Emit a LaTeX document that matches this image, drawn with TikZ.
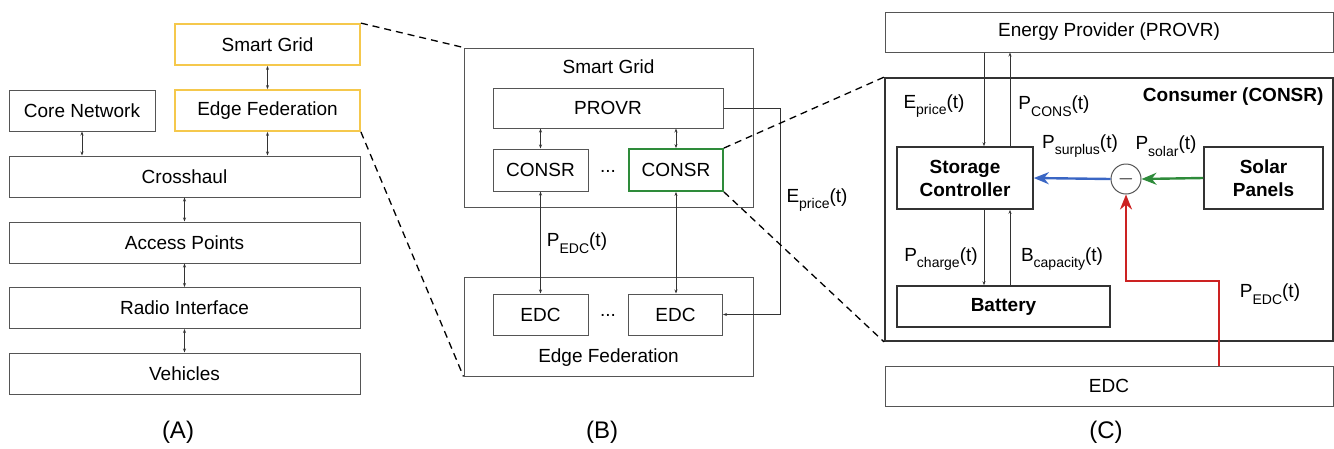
\documentclass[tikz,border=0pt]{standalone}
\usepackage{fontspec}
\setmainfont{Liberation Sans}
\usetikzlibrary{arrows.meta}

\definecolor{gridyellow}{HTML}{F5C84C}
\definecolor{consgreen}{HTML}{2E8B3A}
\definecolor{surplusblue}{HTML}{3A66C4}
\definecolor{edcred}{HTML}{CC2222}
\definecolor{linegray}{HTML}{555555}

\newcommand{\lsub}[1]{\raisebox{-6.5pt}{\fontsize{14}{14}\selectfont #1}}

\tikzset{> = {Stealth[length=4pt, width=3pt]}}
\tikzset{
  box/.style = {draw=linegray, line width=1pt, inner sep=0pt},
  ybox/.style = {box, draw=gridyellow, line width=1.8pt},
  bbox/.style = {draw=black!80, line width=1.6pt, inner sep=0pt, align=center, font=\fontsize{19}{23}\selectfont\bfseries},
  dbl/.style = {<->, line width=0.8pt, black!80},
  sarr/.style = {->, line width=0.8pt, black!80},
  zoomline/.style = {line width=1.3pt, dash pattern=on 7pt off 5pt},
  fat/.style = {line width=2.4pt, -{Stealth[length=15pt, width=12pt]}},
  panel/.style = {font=\fontsize{24}{28}\selectfont}
}

\begin{document}
\begin{tikzpicture}[x=1pt, y=-1pt, font=\fontsize{19}{23}\selectfont]
\useasboundingbox (0,0) rectangle (1334,448);

% (A) layers
\node[ybox, minimum width=185pt, minimum height=41pt] (sgA) at (267.5,44.5) {Smart Grid};
\node[ybox, minimum width=185pt, minimum height=41pt] (efA) at (267.5,110.5) {Edge Federation};
\node[box, minimum width=146pt, minimum height=41pt] (coreA) at (82,110.5) {Core Network};
\node[box, minimum width=351pt, minimum height=41pt] (crossA) at (184.5,176.5) {Crosshaul};
\node[box, minimum width=351pt, minimum height=41pt] (accessA) at (184.5,242.5) {Access Points};
\node[box, minimum width=351pt, minimum height=41pt] (radioA) at (184.5,308) {Radio Interface};
\node[box, minimum width=351pt, minimum height=41pt] (vehA) at (184.5,373.5) {Vehicles};
\node[panel] (capA) at (178,432) {(A)};

\draw[dbl] (sgA) -- (efA);
\draw[dbl] (coreA.south) -- (coreA.south |- crossA.north);
\draw[dbl] (efA.south) -- (efA.south |- crossA.north);
\draw[dbl] (crossA) -- (accessA);
\draw[dbl] (accessA) -- (radioA);
\draw[dbl] (radioA) -- (vehA);

% (B) smart grid and edge federation
\node[box, minimum width=289pt, minimum height=159pt] (sgB) at (608.5,127.5) {};
\node (sgtitle) at (608.5,67) {Smart Grid};
\node[box, minimum width=230pt, minimum height=40pt] (provr) at (608,108) {PROVR};
\node[box, minimum width=95pt, minimum height=42pt] (consrL) at (540.5,170) {CONSR};
\node[box, draw=consgreen, line width=1.8pt, minimum width=94pt, minimum height=42pt] (consrR) at (676,170) {CONSR};
\node (dotsB1) at (608,171) {...};
\node[box, minimum width=289pt, minimum height=99pt] (efB) at (608.5,326.5) {};
\node[box, minimum width=95pt, minimum height=41pt] (edcL) at (540.5,314.5) {EDC};
\node[box, minimum width=94pt, minimum height=41pt] (edcR) at (675.5,314.5) {EDC};
\node (dotsB2) at (608,315.5) {...};
\node (eftitle) at (608.5,358) {Edge Federation};
\node (pedcB) at (577,243) {P\lsub{EDC}(t)};
\node (epriceB) at (817,200) {E\lsub{price}(t)};
\node[panel] (capB) at (602,432) {(B)};

\draw[dbl] (consrL.north) -- (consrL.north |- provr.south);
\draw[dbl] (consrR.north) -- (consrR.north |- provr.south);
\draw[dbl] (consrL.south) -- (edcL.north);
\draw[dbl] (consrR.south) -- (consrR.south |- edcR.north);
\draw[sarr] (provr.east) -- ++(57,0) |- (edcR.east);

% (C) consumer
\node[box, minimum width=448pt, minimum height=40pt] (ep) at (1109,32) {Energy Provider (PROVR)};
\node[draw=black!80, line width=1.8pt, minimum width=448pt, minimum height=263pt] (cons) at (1109,209.5) {};
\node[anchor=east, font=\fontsize{19}{23}\selectfont\bfseries] (constitle) at (1327,97) {Consumer (CONSR)};
\node[bbox, minimum width=136pt, minimum height=62pt] (stor) at (965,178) {Storage\\Controller};
\node[bbox, minimum width=119pt, minimum height=62pt] (solar) at (1263.5,178) {Solar\\Panels};
\node[bbox, minimum width=213pt, minimum height=41pt] (batt) at (1003.5,306.5) {Battery};
\node[circle, draw=linegray, line width=1pt, minimum size=30pt, inner sep=0pt, font=\fontsize{22}{22}\selectfont] (minus) at (1126,179) {$-$};
\node[box, minimum width=448pt, minimum height=40pt] (edcC) at (1109,386) {EDC};
\node[panel] (capC) at (1106,432) {(C)};

\node (epriceC) at (934,106) {E\lsub{price}(t)};
\node (pconsC) at (1054,106) {P\lsub{CONS}(t)};
\node (psurpC) at (1080,146) {P\lsub{surplus}(t)};
\node (psolarC) at (1166,146) {P\lsub{solar}(t)};
\node (pchargeC) at (941,259) {P\lsub{charge}(t)};
\node (bcapC) at (1062,259) {B\lsub{capacity}(t)};
\node (pedcC) at (1270,294) {P\lsub{EDC}(t)};

\coordinate (downC) at ([xshift=19pt]stor.north);
\coordinate (upC) at ([xshift=45pt]stor.north);
\coordinate (redC) at (1219,366);

\draw[sarr] (downC |- ep.south) -- (downC);
\draw[sarr] (upC) -- (upC |- ep.south);
\draw[sarr] (downC |- stor.south) -- (downC |- batt.north);
\draw[sarr] (upC |- batt.north) -- (upC |- stor.south);
\draw[fat, surplusblue] (minus.west) -- (stor.east);
\draw[fat, consgreen] (solar.west) -- (minus.east);
\draw[fat, edcred] (redC) -- ++(0,-85) -| (minus.south);

% zoom lines
\draw[zoomline] (sgA.north east) -- (sgB.north west);
\draw[zoomline] (efA.south east) -- (efB.south west);
\draw[zoomline] (consrR.north east) -- (cons.north west);
\draw[zoomline] (consrR.south east) -- (cons.south west);

\end{tikzpicture}
\end{document}
